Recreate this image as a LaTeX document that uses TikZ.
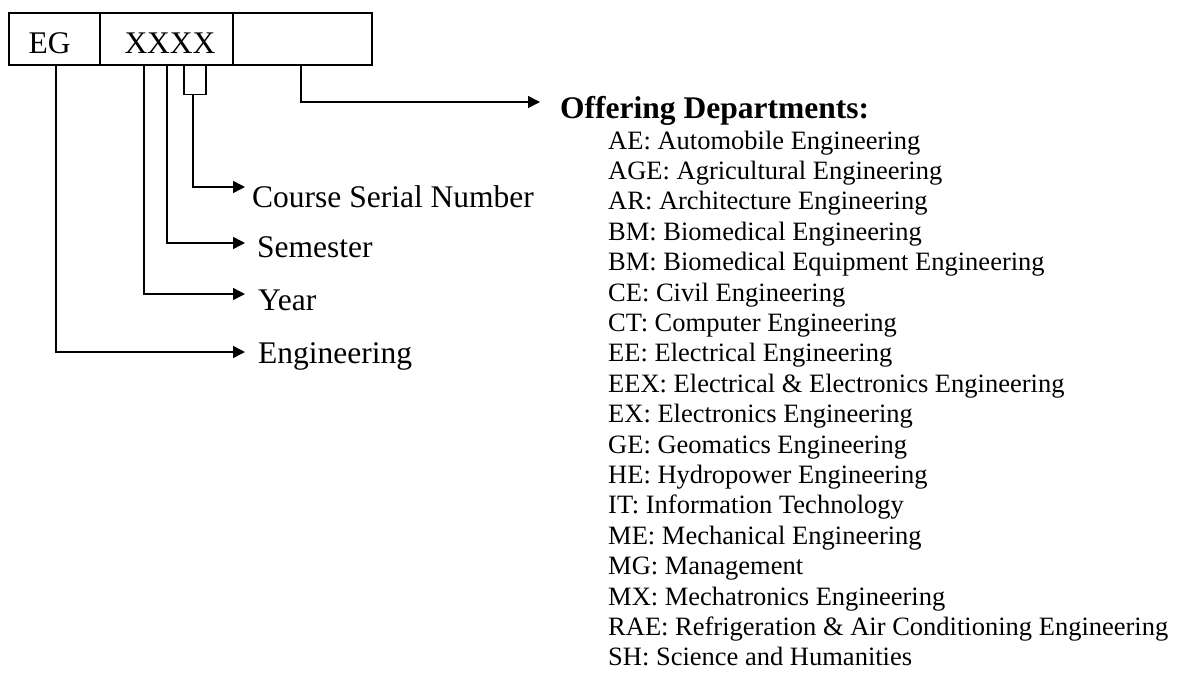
\documentclass[tikz,border=0pt]{standalone}
\usepackage{fontspec}
\setmainfont{Liberation Serif}
\usetikzlibrary{arrows.meta}
\newcommand{\bigf}{\fontsize{31.5}{36}\selectfont}
\newcommand{\listf}{\fontsize{26.5}{30}\selectfont}
\begin{document}
\begin{tikzpicture}[x=1pt,y=1pt,
  cell/.style={draw, line width=1.5pt, rectangle, anchor=north west, inner sep=0pt, minimum height=52pt},
  conn/.style={line width=1.5pt},
  arr/.style={conn, -{Triangle[length=12pt,width=12pt]}},
  lbl/.style={font=\bigf, anchor=base west, inner sep=0pt},
  boxtext/.style={font=\bigf, anchor=base, inner sep=0pt},
  dept/.style={font=\listf, anchor=base west, inner sep=0pt}]
\useasboundingbox (0,0) rectangle (1180,-673);
% code boxes
\node[cell, minimum width=91pt] (eg) at (8,-12) {};
\node[cell, minimum width=133pt] (xx) at (99,-12) {};
\node[cell, minimum width=139pt] (dp) at (232,-12) {};
\node[boxtext] (egt) at (49.5,-53) {EG};
\node[boxtext] (xxt) at (170,-53) {XXXX};
% labels
\node[lbl] (csn) at (252,-207) {Course Serial Number};
\node[lbl] (sem) at (257,-257) {Semester};
\node[lbl] (yr) at (258,-310) {Year};
\node[lbl] (eng) at (258,-363) {Engineering};
\node[font=\bigf\bfseries, anchor=base west, inner sep=0pt] (off) at (560,-118) {Offering Departments:};
% arrow tips
\coordinate (csntip) at (245,-187);
\coordinate (semtip) at (245,-243);
\coordinate (yrtip) at (245,-294);
\coordinate (engtip) at (245,-352);
\coordinate (offtip) at (540,-102);
% connectors
\draw[arr] ([xshift=1.5pt]eg.south) |- (engtip);
\draw[arr] ([xshift=-22.5pt]xx.south) |- (yrtip);
\draw[arr] ([xshift=0.5pt]xx.south) |- (semtip);
\draw[conn] ([xshift=17.5pt]xx.south) -- ++(0,-29) -- ++(22,0) -- ++(0,29);
\coordinate (brk) at ([xshift=26.5pt,yshift=-29pt]xx.south);
\draw[arr] (brk) |- (csntip);
\draw[arr] ([xshift=-1.5pt]dp.south) |- (offtip);
% department list
\foreach \t [count=\i from 0] in {
  AE: Automobile Engineering,
  AGE: Agricultural Engineering,
  AR: Architecture Engineering,
  BM: Biomedical Engineering,
  BM: Biomedical Equipment Engineering,
  CE: Civil Engineering,
  CT: Computer Engineering,
  EE: Electrical Engineering,
  EEX: Electrical \& Electronics Engineering,
  EX: Electronics Engineering,
  GE: Geomatics Engineering,
  HE: Hydropower Engineering,
  IT: Information Technology,
  ME: Mechanical Engineering,
  MG: Management,
  MX: Mechatronics Engineering,
  RAE: Refrigeration \& Air Conditioning Engineering,
  SH: Science and Humanities}
  \node[dept] (d\i) at (608, {-149-30.4*\i}) {\t};
\end{tikzpicture}
\end{document}
